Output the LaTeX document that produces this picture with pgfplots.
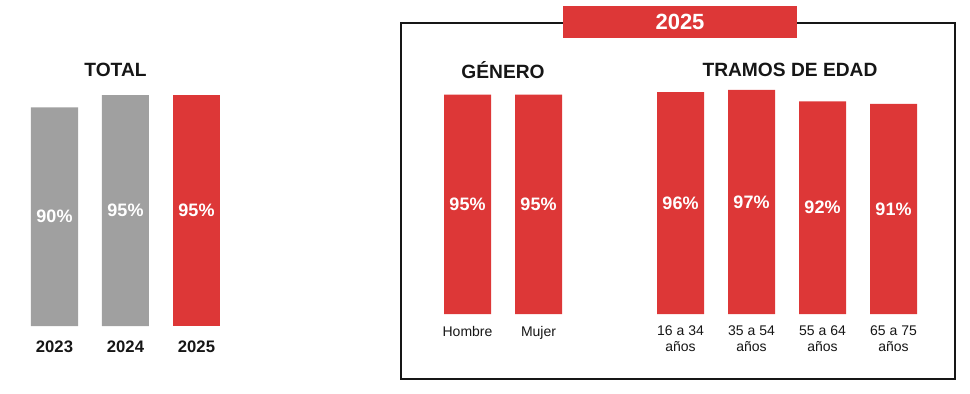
\documentclass[border=0pt]{standalone}
\usepackage{pgfplots}
\pgfplotsset{compat=1.18}
\usepackage{fontspec}
\setmainfont{Liberation Sans}
\definecolor{cred}{HTML}{DD3737}
\definecolor{cgray}{HTML}{A0A0A0}
\definecolor{ctext}{HTML}{161616}
\pgfplotsset{
  barpanel/.style={
    scale only axis,
    anchor=south west,
    ybar, bar width=35.25pt,
    ymin=0, ymax=100,
    axis line style={draw=none},
    major tick style={draw=none},
    ytick=\empty,
    clip=false,
    /pgf/number format/assume math mode=true,
    nodes near coords={\pgfmathprintnumber{\pgfplotspointmeta}\%},
    nodes near coords align={center},
    visualization depends on=rawy \as \rawy,
    every node near coord/.append style={font=\fontsize{13.5}{16}\selectfont\bfseries, text=white, anchor=center, shift={(axis direction cs:0,-\rawy/2)}},
    title style={font=\fontsize{14.4}{17}\selectfont\bfseries, text=ctext, anchor=center, at={(0.5,1)}, yshift=3.75pt},
  },
}
\begin{document}
\begin{tikzpicture}
\path[use as bounding box] (0,0) rectangle (727.5pt,294.75pt);
% TOTAL
\begin{axis}[barpanel,
  at={(14.25pt,50.25pt)}, width=159.75pt, height=182.25pt,
  xmin=-0.5, xmax=2.5,
  xtick={0,1,2},
  xticklabels={2023,2024,2025},
  xticklabel style={font=\fontsize{12.5}{15}\selectfont\bfseries, text=ctext, anchor=north, inner sep=0pt, yshift=-6.75pt},
  title={TOTAL}, title style={xshift=-7.5pt}]
\addplot[fill=cgray, draw=none, bar shift=0pt] coordinates {(0,90) (1,95)};
\addplot[fill=cred, draw=none, bar shift=0pt] coordinates {(2,95)};
\end{axis}
% GENERO
\begin{axis}[barpanel,
  at={(324pt,59.25pt)}, width=106.5pt, height=173.25pt,
  xmin=-0.5, xmax=1.5,
  xtick={0,1},
  xticklabels={Hombre,Mujer},
  xticklabel style={font=\fontsize{10.5}{12}\selectfont, text=ctext, anchor=north, align=center, inner sep=0pt, yshift=-4.5pt},
  title={GÉNERO}]
\addplot[fill=cred, draw=none, bar shift=0pt] coordinates {(0,95) (1,95)};
\end{axis}
% TRAMOS
\begin{axis}[barpanel,
  at={(483.75pt,59.25pt)}, width=213pt, height=173.25pt,
  xmin=-0.5, xmax=3.5,
  xtick={0,1,2,3},
  xticklabels={{16 a 34\\años},{35 a 54\\años},{55 a 64\\años},{65 a 75\\años}},
  xticklabel style={font=\fontsize{10.5}{12}\selectfont, text=ctext, anchor=north, align=center, inner sep=0pt, yshift=-4.5pt},
  title={TRAMOS DE EDAD}, title style={xshift=2.25pt}]
\addplot[fill=cred, draw=none, bar shift=0pt] coordinates {(0,96) (1,97) (2,92) (3,91)};
\end{axis}
% frame and header
\draw[line width=1.5pt, ctext] (300.75pt,10.5pt) rectangle (716.25pt,277.5pt);
\fill[cred] (422.25pt,266.25pt) rectangle (597.75pt,290.25pt);
\node[font=\fontsize{16.5}{19}\selectfont\bfseries, text=white] at (510pt,278.25pt) {2025};
\end{tikzpicture}
\end{document}
